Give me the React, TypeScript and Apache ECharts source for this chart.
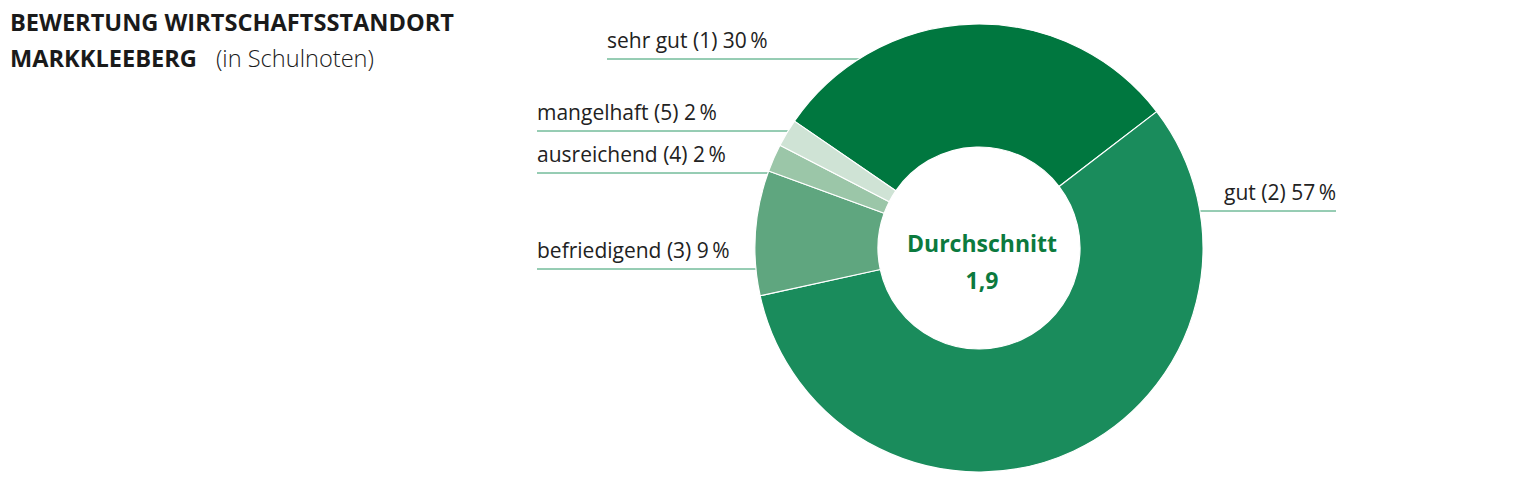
import React, { useEffect, useRef } from "react";
import * as echarts from "echarts";

const categories = ["sehr gut (1)", "gut (2)", "befriedigend (3)", "ausreichend (4)", "mangelhaft (5)"];
const shares = [30, 57, 9, 2, 2];
const average = "1,9";
const titleLine1 = "BEWERTUNG WIRTSCHAFTSSTANDORT";
const titleLine2 = "MARKKLEEBERG";
const titleNote = "(in Schulnoten)";
const centerLabel = "Durchschnitt";

// styling / layout (not data)
const sliceColors = ["#00773F", "#1A8C5C", "#5FA67F", "#9BC6A8", "#CFE3D5"];
const labelLineY = [59, 211, 269, 173, 131];
const labelEndX = [607, 1336, 537, 537, 537];
const CX = 979;
const CY = 248;
const R_IN = 101;
const R_OUT = 224;
const FONT = "'Open Sans', 'Noto Sans', sans-serif";

export default function App() {
  const ref = useRef<HTMLDivElement>(null);
  useEffect(() => {
    if (!ref.current) return;
    const chart = echarts.init(ref.current, null, { renderer: "svg" });
    const data = categories.map((c, i) => ({
      name: c,
      value: shares[i],
      itemStyle: { color: sliceColors[i] },
    }));
    chart.setOption({
      animation: false,
      backgroundColor: "#ffffff",
      graphic: [
        {
          type: "text",
          left: 10,
          top: 10,
          style: {
            text: `{b|${titleLine1}}\n{b|${titleLine2}}{g| }{r|${titleNote}}`,
            rich: {
              b: { fontFamily: FONT, fontWeight: "bold", fontSize: 23.6, lineHeight: 36, fill: "#1a1a1a" },
              g: { width: 19, lineHeight: 36 },
              r: { fontFamily: FONT, fontWeight: 300, fontSize: 23.6, lineHeight: 36, fill: "#1a1a1a" },
            },
          },
        },
        {
          type: "text",
          x: CX + 3,
          y: 243,
          style: {
            text: centerLabel,
            fontFamily: FONT,
            fontWeight: "bold",
            fontSize: 23,
            fill: "#0B7A3E",
            align: "center",
            verticalAlign: "middle",
          },
        },
        {
          type: "text",
          x: CX + 3,
          y: 280,
          style: {
            text: average,
            fontFamily: FONT,
            fontWeight: "bold",
            fontSize: 23,
            fill: "#0B7A3E",
            align: "center",
            verticalAlign: "middle",
          },
        },
      ],
      series: [
        {
          type: "pie",
          center: [CX, CY],
          radius: [R_IN, R_OUT],
          startAngle: 145.5,
          clockwise: true,
          avoidLabelOverlap: false,
          silent: true,
          itemStyle: { borderColor: "#ffffff", borderWidth: 1.2 },
          label: {
            show: true,
            position: "outside",
            fontFamily: FONT,
            fontWeight: "normal",
            fontSize: 21,
            color: "#222222",
            formatter: (p: any) => `${p.name} ${p.value}\u2009%`,
          },
          labelLine: {
            show: true,
            length: 10,
            length2: 10,
            lineStyle: { color: "#2F9A68", width: 1 },
          },
          labelLayout: (p: any) => {
            const i = p.dataIndex;
            const y = labelLineY[i];
            const dy = y - CY;
            const dx = Math.sqrt(Math.max(0, (R_OUT - 1) * (R_OUT - 1) - dy * dy));
            const endX = labelEndX[i];
            const isLeft = endX < CX;
            const edgeX = isLeft ? CX - dx : CX + dx;
            return {
              x: endX,
              y: y - 19,
              align: isLeft ? "left" : "right",
              verticalAlign: "middle",
              labelLinePoints: [
                [edgeX, y],
                [edgeX, y],
                [endX, y],
              ],
            };
          },
          data,
        },
      ],
    });
    return () => chart.dispose();
  }, []);
  return (
    <div
      ref={ref}
      style={{ position: "absolute", left: 0, top: 0, width: 1520, height: 487 }}
    />
  );
}
